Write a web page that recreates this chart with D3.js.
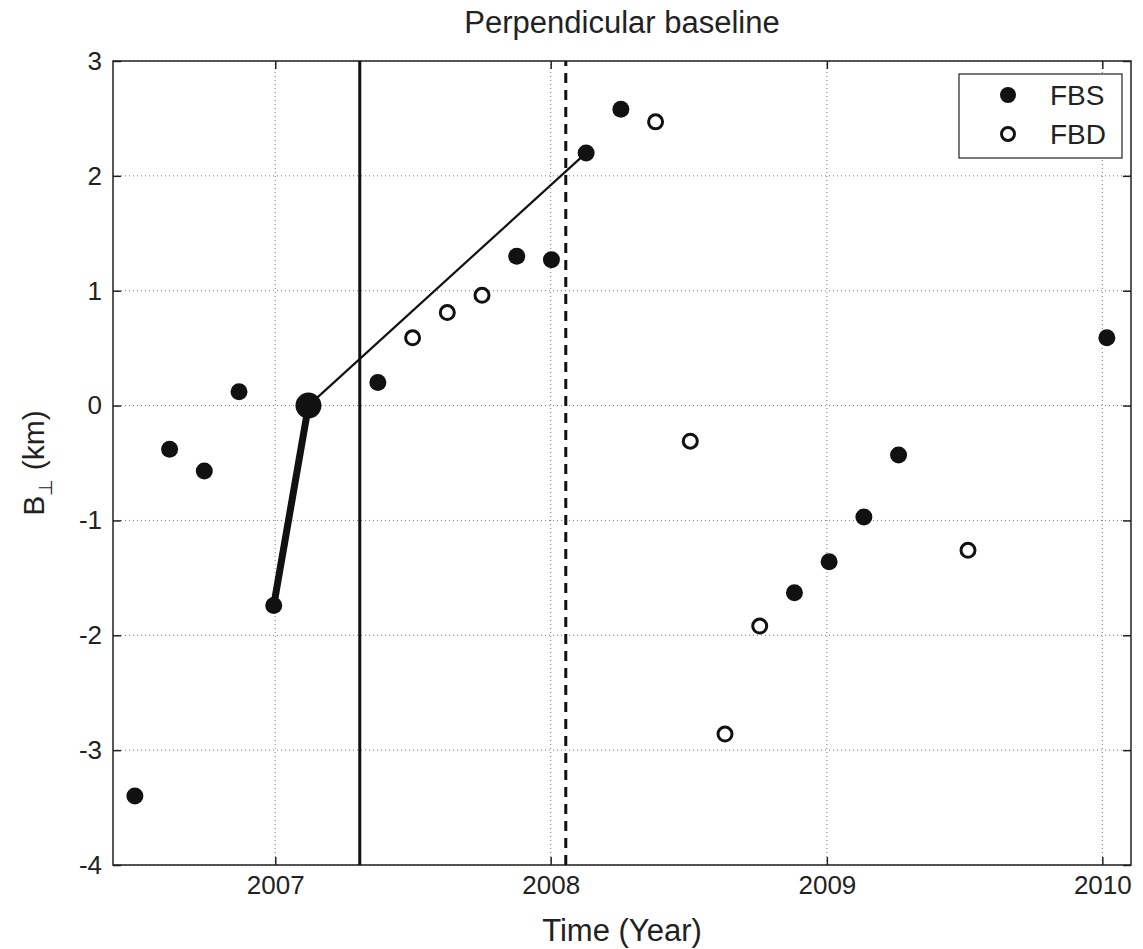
<!DOCTYPE html>
<html>
<head>
<meta charset="utf-8">
<script src="https://cdn.jsdelivr.net/npm/d3@7"></script>
<style>
  body { margin: 0; background: #fff; }
  text { font-family: "Liberation Sans", Arial, sans-serif; fill: #222; }
</style>
</head>
<body>
<div id="chart"></div>
<script>
const width = 1143;
const height = 949;

// FBS acquisitions (filled markers)
const fbsDates = ["2006-06-29", "2006-08-14", "2006-09-29", "2006-11-14", "2006-12-30",
    "2007-05-17", "2007-11-17", "2008-01-02", "2008-02-17", "2008-04-03",
    "2008-11-19", "2009-01-04", "2009-02-19", "2009-04-06", "2010-01-07"];
const fbsValues = [-3.40, -0.38, -0.57, 0.12, -1.74, 0.20, 1.30, 1.27, 2.20, 2.58,
    -1.63, -1.36, -0.97, -0.43, 0.59];

// FBD acquisitions (open markers)
const fbdDates = ["2007-07-02", "2007-08-17", "2007-10-02", "2008-05-19", "2008-07-04",
    "2008-08-19", "2008-10-04", "2009-07-07"];
const fbdValues = [0.59, 0.81, 0.96, 2.47, -0.31, -2.86, -1.92, -1.26];

// master scene and the two selected pairs
const masterDate = "2007-02-14";
const masterValue = 0;
const pairThick = ["2006-12-30", -1.74];
const pairThin = ["2008-02-17", 2.20];

// vertical event markers
const solidEvent = "2007-04-23";
const dashedEvent = "2008-01-21";

const xDomain = ["2006-05-31", "2010-02-08"];
const yDomain = [-4, 3];
const xTickLabels = ["2007", "2008", "2009", "2010"];
const yTickLabels = [-4, -3, -2, -1, 0, 1, 2, 3];

const parse = d3.timeParse("%Y-%m-%d");
const margin = { top: 61, right: 12, bottom: 84, left: 113 };

const svg = d3.select("#chart")
    .append("svg")
    .attr("width", width)
    .attr("height", height);

svg.append("rect")
    .attr("width", width)
    .attr("height", height)
    .attr("fill", "#fff");

const x = d3.scaleTime()
    .domain(xDomain.map(parse))
    .range([margin.left, width - margin.right]);

const y = d3.scaleLinear()
    .domain(yDomain)
    .range([height - margin.bottom, margin.top]);

const xTicks = xTickLabels.map(t => parse(t + "-01-01"));

// grid (dotted, matlab style)
const grid = svg.append("g").attr("stroke", "#777").attr("stroke-width", 1).attr("stroke-dasharray", "1,3");
grid.selectAll(".gx").data(xTicks).enter().append("line")
    .attr("x1", d => x(d)).attr("x2", d => x(d))
    .attr("y1", y(yDomain[0])).attr("y2", y(yDomain[1]));
grid.selectAll(".gy").data(yTickLabels).enter().append("line")
    .attr("x1", x.range()[0]).attr("x2", x.range()[1])
    .attr("y1", d => y(d)).attr("y2", d => y(d));

// axes with inward ticks
const xAxis = svg.append("g")
    .attr("transform", `translate(0,${y(yDomain[0])})`)
    .call(d3.axisBottom(x).tickValues(xTicks).tickFormat(d3.timeFormat("%Y")).tickSizeInner(-8).tickSizeOuter(0).tickPadding(11));
const xAxisTop = svg.append("g")
    .attr("transform", `translate(0,${y(yDomain[1])})`)
    .call(d3.axisTop(x).tickValues(xTicks).tickFormat("").tickSizeInner(-8).tickSizeOuter(0));
const yAxis = svg.append("g")
    .attr("transform", `translate(${x.range()[0]},0)`)
    .call(d3.axisLeft(y).tickValues(yTickLabels).tickFormat(d3.format("d")).tickSizeInner(-8).tickSizeOuter(0).tickPadding(11));
const yAxisRight = svg.append("g")
    .attr("transform", `translate(${x.range()[1]},0)`)
    .call(d3.axisRight(y).tickValues(yTickLabels).tickFormat("").tickSizeInner(-8).tickSizeOuter(0));

[xAxis, xAxisTop, yAxis, yAxisRight].forEach(a => {
    a.select(".domain").remove();
    a.selectAll(".tick line").attr("stroke", "#222").attr("stroke-width", 1.5);
    a.selectAll("text").attr("font-size", 26).attr("fill", "#222")
        .attr("font-family", "'Liberation Sans', Arial, sans-serif");
});
yAxis.selectAll("text").text(d => d);

// box
svg.append("rect")
    .attr("x", x.range()[0]).attr("y", y(yDomain[1]))
    .attr("width", x.range()[1] - x.range()[0])
    .attr("height", y(yDomain[0]) - y(yDomain[1]))
    .attr("fill", "none").attr("stroke", "#222").attr("stroke-width", 1.5);

// event lines
svg.append("line")
    .attr("x1", x(parse(solidEvent))).attr("x2", x(parse(solidEvent)))
    .attr("y1", y(yDomain[0])).attr("y2", y(yDomain[1]))
    .attr("stroke", "#111").attr("stroke-width", 3);
svg.append("line")
    .attr("x1", x(parse(dashedEvent))).attr("x2", x(parse(dashedEvent)))
    .attr("y1", y(yDomain[0])).attr("y2", y(yDomain[1]))
    .attr("stroke", "#111").attr("stroke-width", 3).attr("stroke-dasharray", "10,7");

// selected pairs
svg.append("line")
    .attr("x1", x(parse(masterDate))).attr("y1", y(masterValue))
    .attr("x2", x(parse(pairThin[0]))).attr("y2", y(pairThin[1]))
    .attr("stroke", "#111").attr("stroke-width", 2.2);
svg.append("line")
    .attr("x1", x(parse(masterDate))).attr("y1", y(masterValue))
    .attr("x2", x(parse(pairThick[0]))).attr("y2", y(pairThick[1]))
    .attr("stroke", "#111").attr("stroke-width", 7).attr("stroke-linecap", "round");

// points
svg.append("g").selectAll("circle")
    .data(fbsDates.map((d, i) => [parse(d), fbsValues[i]]))
    .enter().append("circle")
    .attr("cx", d => x(d[0])).attr("cy", d => y(d[1]))
    .attr("r", 8.5).attr("fill", "#111");

svg.append("g").selectAll("circle")
    .data(fbdDates.map((d, i) => [parse(d), fbdValues[i]]))
    .enter().append("circle")
    .attr("cx", d => x(d[0])).attr("cy", d => y(d[1]))
    .attr("r", 7).attr("fill", "#fff").attr("stroke", "#111").attr("stroke-width", 3);

svg.append("circle")
    .attr("cx", x(parse(masterDate))).attr("cy", y(masterValue))
    .attr("r", 13).attr("fill", "#111");

// legend
const legend = svg.append("g");
legend.append("rect")
    .attr("x", 959).attr("y", 74).attr("width", 163).attr("height", 84)
    .attr("fill", "#fff").attr("stroke", "#222").attr("stroke-width", 1.2);
legend.append("circle").attr("cx", 1008).attr("cy", 95).attr("r", 8).attr("fill", "#111");
legend.append("circle").attr("cx", 1008).attr("cy", 134).attr("r", 6.5)
    .attr("fill", "#fff").attr("stroke", "#111").attr("stroke-width", 3);
legend.append("text").attr("x", 1050).attr("y", 95).attr("dy", "0.36em").attr("font-size", 28).text("FBS");
legend.append("text").attr("x", 1050).attr("y", 134).attr("dy", "0.36em").attr("font-size", 28).text("FBD");

// titles
svg.append("text")
    .attr("x", (x.range()[0] + x.range()[1]) / 2).attr("y", 33)
    .attr("text-anchor", "middle").attr("font-size", 31)
    .text("Perpendicular baseline");

svg.append("text")
    .attr("x", (x.range()[0] + x.range()[1]) / 2).attr("y", 941)
    .attr("text-anchor", "middle").attr("font-size", 31)
    .text("Time (Year)");

const ylab = svg.append("text")
    .attr("transform", `translate(44,${(y(yDomain[0]) + y(yDomain[1])) / 2}) rotate(-90)`)
    .attr("text-anchor", "middle").attr("font-size", 30);
ylab.append("tspan").text("B");
ylab.append("tspan").attr("font-size", 19).attr("dy", 8).text("\u22a5");
ylab.append("tspan").attr("dy", -8).text(" (km)");
</script>
</body>
</html>
